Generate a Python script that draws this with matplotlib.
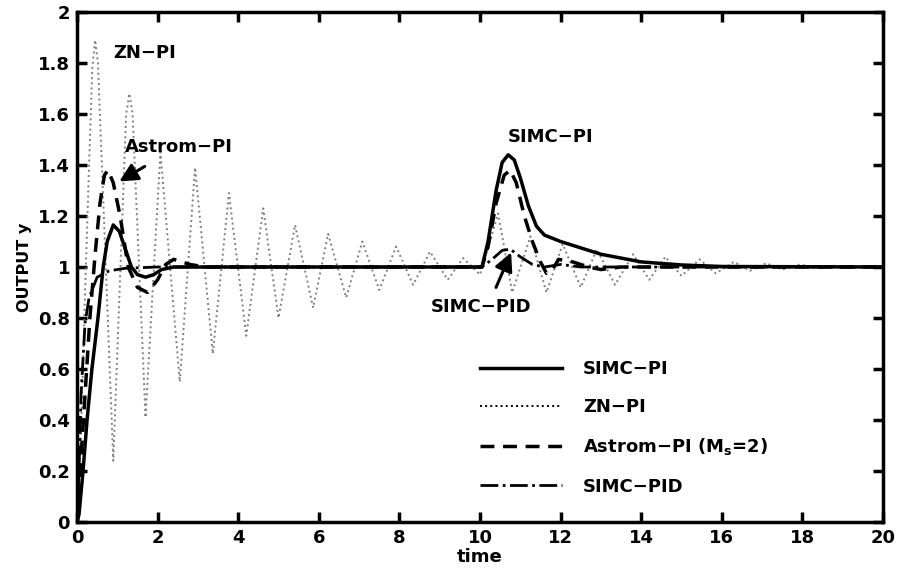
import numpy as np
import matplotlib
matplotlib.use('Agg')
import matplotlib.pyplot as plt

plt.rcParams['font.family'] = ['DejaVu Sans']
plt.rcParams['font.weight'] = 'bold'
plt.rcParams['mathtext.fontset'] = 'custom'
plt.rcParams['mathtext.rm'] = 'DejaVu Sans:bold'
plt.rcParams['mathtext.default'] = 'regular'

FS = 13

# values
simc_pi_t = [0, 0.05, 0.15, 0.25, 0.37, 0.52, 0.65, 0.75, 0.9, 1.05, 1.2, 1.35, 1.5, 1.7, 1.9,
             2.1, 2.4, 10.05, 10.2, 10.4, 10.55, 10.7, 10.85, 11.0, 11.2, 11.4, 11.6, 12.0,
             12.5, 13.0, 13.5, 14.0, 15.0, 16.0, 20.0]
simc_pi_y = [0, 0.03, 0.2, 0.4, 0.6, 0.8, 1.0, 1.1, 1.165, 1.14, 1.07, 1.0, 0.97, 0.96, 0.97,
             0.99, 1.0, 1.0, 1.1, 1.3, 1.41, 1.44, 1.42, 1.35, 1.24, 1.16, 1.125, 1.1,
             1.075, 1.05, 1.035, 1.02, 1.008, 1.002, 1.0]

zn_pi_t = [0, 0.1, 0.2, 0.3, 0.38, 0.45, 0.52, 0.9, 1.22, 1.3, 1.38, 1.7, 2.07, 2.55, 2.93,
           3.37, 3.77, 4.2, 4.62, 5.0, 5.41, 5.86, 6.23, 6.68, 7.08, 7.5, 7.92, 8.34, 8.76,
           9.2, 9.58, 10.0, 10.45, 10.8, 11.25, 11.65, 12.05, 12.5, 12.9, 13.35, 13.8, 14.2,
           14.6, 15.0, 15.45, 15.85, 16.3, 16.7, 17.1, 17.5, 17.95, 18.35, 18.8, 19.2, 19.6,
           20.0]
zn_pi_y = [0, 0.35, 0.9, 1.4, 1.78, 1.89, 1.8, 0.24, 1.6, 1.68, 1.6, 0.41, 1.45, 0.55, 1.39,
           0.66, 1.29, 0.73, 1.23, 0.80, 1.165, 0.84, 1.13, 0.88, 1.10, 0.91, 1.08, 0.93,
           1.06, 0.95, 1.035, 0.97, 1.21, 0.90, 1.12, 0.90, 1.09, 0.92, 1.07, 0.93, 1.05,
           0.95, 1.04, 0.965, 1.03, 0.975, 1.02, 0.985, 1.015, 0.99, 1.01, 0.995, 1.005,
           0.998, 1.003, 1.0]

astrom_t = [0, 0.1, 0.2, 0.32, 0.45, 0.57, 0.68, 0.77, 0.9, 1.07, 1.27, 1.5, 1.75, 2.0, 2.2,
            2.4, 2.6, 2.8, 3.2, 10.05, 10.2, 10.4, 10.6, 10.75, 10.9, 11.1, 11.3, 11.5, 11.65,
            11.8, 11.95, 12.3, 12.7, 13.0, 13.5, 20.0]
astrom_y = [0, 0.25, 0.5, 0.8, 1.05, 1.25, 1.36, 1.38, 1.33, 1.2, 1.0, 0.92, 0.9, 0.95, 1.01,
            1.03, 1.02, 1.01, 1.0, 1.0, 1.08, 1.25, 1.36, 1.38, 1.33, 1.2, 1.1, 1.02, 0.975,
            0.99, 1.03, 1.02, 1.0, 0.99, 1.0, 1.0]

simc_pid_t = [0, 0.05, 0.1, 0.2, 0.3, 0.5, 0.8, 1.2, 2.0, 10.05, 10.3, 10.55, 10.75, 11.0,
              11.3, 11.6, 12.0, 12.5, 20.0]
simc_pid_y = [0, 0.2, 0.5, 0.78, 0.88, 0.96, 0.985, 0.995, 1.0, 1.0, 1.03, 1.065, 1.07, 1.04,
              1.01, 1.0, 1.01, 1.0, 1.0]

fig = plt.figure(figsize=(9.03, 5.77), dpi=100)
ax = fig.add_axes([77 / 903, 1 - 522 / 577, 806 / 903, 510 / 577])

ax.plot(zn_pi_t, zn_pi_y, ':', color='0.5', lw=1.4)
ax.plot(simc_pid_t, simc_pid_y, '-.', color='black', lw=2)
ax.plot(astrom_t, astrom_y, '--', color='black', lw=2.5, dashes=(4, 2.5))
ax.plot(simc_pi_t, simc_pi_y, '-', color='black', lw=2.5)

ax.set_xlim(0, 20)
ax.set_ylim(0, 2)
ax.set_xticks(np.arange(0, 21, 2))
ax.set_yticks(np.arange(0, 2.01, 0.2))
ax.set_yticklabels(['%g' % v for v in np.arange(0, 2.01, 0.2).round(1)])
ax.tick_params(direction='in', length=7, width=2.5, top=True, right=True,
               labelsize=FS, pad=5)
for s in ax.spines.values():
    s.set_linewidth(2.5)

ax.set_xlabel('time', fontsize=FS, fontweight='bold', labelpad=1)
ax.set_ylabel('OUTPUT y', fontsize=11.5, fontweight='bold', labelpad=4)

ax.text(0.9, 1.84, 'ZN\u2212PI', fontsize=FS, fontweight='bold', ha='left', va='center')
ax.text(1.19, 1.47, 'Astrom\u2212PI', fontsize=FS, fontweight='bold', ha='left', va='center')
ax.text(11.75, 1.51, 'SIMC\u2212PI', fontsize=FS, fontweight='bold', ha='center', va='center')
ax.text(10.02, 0.843, 'SIMC\u2212PID', fontsize=FS, fontweight='bold', ha='center', va='center')

arrow = dict(arrowstyle='-|>,head_length=1.1,head_width=0.55', color='black', lw=2.2)
ax.annotate('', xy=(0.99, 1.33), xytext=(1.74, 1.40), arrowprops=arrow)
ax.annotate('', xy=(10.8, 1.067), xytext=(10.37, 0.91), arrowprops=arrow)

handles = [
    plt.Line2D([], [], ls='-', color='black', lw=2.5),
    plt.Line2D([], [], ls=':', color='black', lw=1.4),
    plt.Line2D([], [], ls='--', color='black', lw=2.5, dashes=(4, 2.5)),
    plt.Line2D([], [], ls='-.', color='black', lw=2),
]
labels = ['SIMC\u2212PI', 'ZN\u2212PI', 'Astrom\u2212PI (M$_{s}$=2)', 'SIMC\u2212PID']
fig.legend(handles, labels, loc='upper left', bbox_to_anchor=(480 / 903, 1 - 360 / 577),
           frameon=False, fontsize=FS, handlelength=4.55, handletextpad=1.15,
           labelspacing=1.12, borderpad=0, borderaxespad=0)

fig.savefig('out.png', dpi=100)
